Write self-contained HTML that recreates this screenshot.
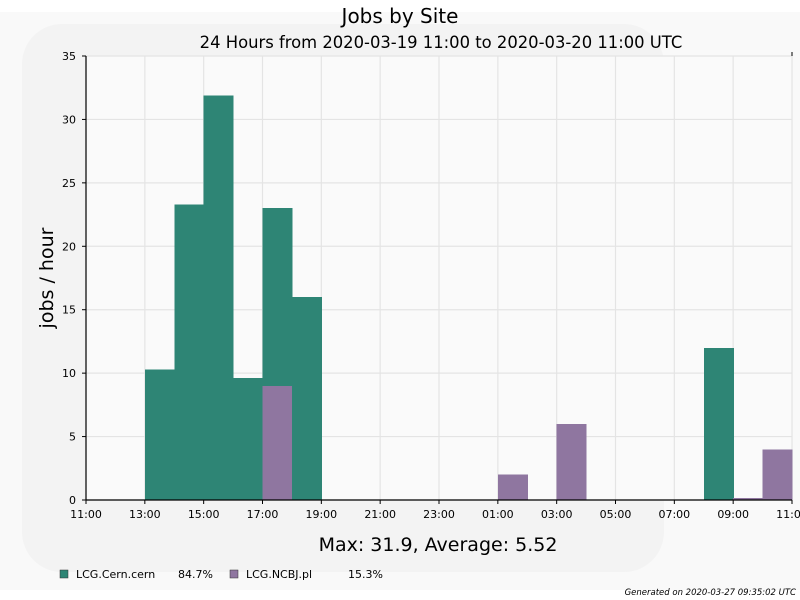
<!DOCTYPE html>
<html><head><meta charset="utf-8"><style>
body{margin:0;background:#fff;}
svg{display:block;font-family:"DejaVu Sans","Liberation Sans",sans-serif;}
</style></head><body>
<svg id="c" width="800" height="600">
<rect x="0" y="0" width="800" height="600" fill="#ffffff"/>
<rect x="0" y="12" width="800" height="578" fill="#f9f9f9"/>
<rect x="22" y="24" width="642" height="548" rx="40" fill="#f3f3f3"/>
<rect x="86" y="56" width="706" height="444" fill="#fafafa"/>
<g id="grid"></g>
<g id="bars" shape-rendering="crispEdges"></g>
<g id="axes"></g>
<text x="400" y="23" text-anchor="middle" font-size="20" fill="#000">Jobs by Site</text>
<text x="441" y="48" text-anchor="middle" font-size="16.4" fill="#000">24 Hours from 2020-03-19 11:00 to 2020-03-20 11:00 UTC</text>
<text transform="translate(53,278) rotate(-90)" text-anchor="middle" font-size="19" fill="#000">jobs / hour</text>
<text x="438" y="551" text-anchor="middle" font-size="19" fill="#000">Max: 31.9, Average: 5.52</text>
<g>
<rect x="60" y="570" width="8" height="8" fill="#2e8575" stroke="#333" stroke-width="0.5"/>
<text x="76" y="578" font-size="11">LCG.Cern.cern</text>
<text x="178" y="578" font-size="11">84.7%</text>
</g>
<g>
<rect x="230" y="570" width="8" height="8" fill="#8f76a0" stroke="#333" stroke-width="0.5"/>
<text x="246" y="578" font-size="11">LCG.NCBJ.pl</text>
<text x="348" y="578" font-size="11">15.3%</text>
</g>
<text x="796" y="595" text-anchor="end" font-size="8.5" font-style="italic">Generated on 2020-03-27 09:35:02 UTC</text>
</svg>
<script>
const hours = ["11:00","12:00","13:00","14:00","15:00","16:00","17:00","18:00","19:00","20:00","21:00","22:00","23:00","00:00","01:00","02:00","03:00","04:00","05:00","06:00","07:00","08:00","09:00","10:00"];
const cernValues = [0,0,10.3,23.3,31.9,9.6,14.0,16.0,0,0,0,0,0,0,0,0,0,0,0,0,0,12.0,0,0];
const ncbjValues = [0,0,0,0,0,0,9.0,0,0,0,0,0,0,0,2.0,0,6.0,0,0,0,0,0,0.15,4.0];
const yTicks = [0,5,10,15,20,25,30,35];
const xTickLabels = ["11:00","13:00","15:00","17:00","19:00","21:00","23:00","01:00","03:00","05:00","07:00","09:00","11:00"];
const X0=86,X1=792,Y0=500,Y1=56,YMAX=35;
const xs=i=>X0+(X1-X0)*i/hours.length;
const ys=v=>Y0-(Y0-Y1)*v/YMAX;
const NS="http://www.w3.org/2000/svg";
function mk(t,a,p){const e=document.createElementNS(NS,t);for(const k in a)e.setAttribute(k,a[k]);p.appendChild(e);return e;}
const grid=document.getElementById('grid'),bars=document.getElementById('bars'),axes=document.getElementById('axes');
yTicks.forEach(v=>{
  const l=mk('line',{x1:X0,x2:X1,y1:ys(v),y2:ys(v),stroke:'#e4e4e4','stroke-width':1.2},grid);
  
  
  const t=mk('line',{x1:X0-4,x2:X0,y1:ys(v),y2:ys(v),stroke:'#000'},axes);
  
  
  const tx=mk('text',{x:X0-10,y:ys(v)+4,'text-anchor':'end','font-size':11},axes);
  tx.textContent=v;
  
  
});
xTickLabels.forEach((s,j)=>{
  const x=xs(j*2);
  const l=mk('line',{x1:x,x2:x,y1:Y1,y2:Y0,stroke:'#e4e4e4','stroke-width':1.2},grid);
  
  
  const t=mk('line',{x1:x,x2:x,y1:Y0,y2:Y0+4,stroke:'#000'},axes);
  
  
  const tx=mk('text',{x:x,y:Y0+18,'text-anchor':'middle','font-size':11},axes);
  tx.textContent=s;
  
  
});
hours.forEach((h,i)=>{
  const n=ncbjValues[i],c=cernValues[i];
  const x=xs(i),w=xs(i+1)-xs(i)+0.6;
  if(n>0){
    const r=mk('rect',{x:x,y:ys(n),width:w,height:ys(0)-ys(n),fill:'#8f76a0'},bars);
    
    
  }
  if(c>0){
    const r=mk('rect',{x:x,y:ys(n+c),width:w,height:ys(n)-ys(n+c),fill:'#2e8575'},bars);
    
    
  }
});
const ax=mk('line',{x1:X0,x2:X1,y1:Y0,y2:Y0,stroke:'#000','stroke-width':1.2},axes);


const ay=mk('line',{x1:X0,x2:X0,y1:Y1,y2:Y0,stroke:'#000','stroke-width':1.2},axes);


const tr=mk('line',{x1:X1,x2:X1,y1:Y1-4,y2:Y1,stroke:'#000'},axes);


</script>
</body></html>
